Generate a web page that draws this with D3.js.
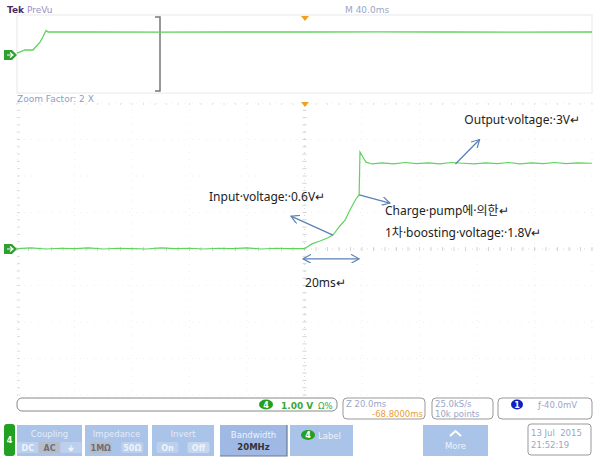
<!DOCTYPE html>
<html>
<head>
<meta charset="UTF-8">
<style>
    body { margin: 0; background: #fff; }
    svg { display: block; }
</style>
</head>
<body>
<svg width="595" height="458"></svg>
<script src="https://d3js.org/d3.v7.min.js"></script>
<script>

// zoomed trace, 20 ms/div, 1 V/div
let mainTime = [-100, -95, -90, -85, -80, -75, -70, -65, -60, -55, -50, -45, -40, -35, -30, -25, -20, -15, -10, -5, 0,
    2.6, 5.4, 8, 9.9, 12.3, 14.1, 15.8, 17.9, 19, 19.3, 20.3, 21.4, 23.5,
    27, 31, 35, 39, 43, 47, 51, 55, 59, 63, 67, 71, 75, 79, 83, 87, 91, 95, 100]
let mainVolt = [0.01, 0.03, 0.0, 0.02, 0.01, 0.03, 0.0, 0.02, 0.01, 0.0, 0.03, 0.01, 0.02, 0.0, 0.02, 0.01, 0.03, 0.0, 0.02, 0.01, 0.01,
    0.14, 0.22, 0.3, 0.38, 0.63, 0.79, 1.07, 1.37, 1.48, 2.66, 2.52, 2.38, 2.33,
    2.36, 2.33, 2.37, 2.34, 2.36, 2.33, 2.37, 2.35, 2.33, 2.36, 2.34, 2.37, 2.33, 2.36, 2.34, 2.37, 2.34, 2.36, 2.35]

// PreVu overview trace, 40 ms/div
let ovTime = [-200, -194.4, -188.9, -184, -182, -179.8, -178.4, -150, -100, -50, 0, 50, 100, 150, 200]
let ovVolt = [0.2, 0.52, 0.52, 1.35, 1.875, 2.55, 2.4, 2.4, 2.39, 2.4, 2.4, 2.41, 2.4, 2.39, 2.4]

let xDivs = d3.range(0, 11)
let yDivs = d3.range(0, 9)

let annotations = [
    { text: "Input·voltage:·0.6V↵", t: -33.2, v: 1.40 },
    { text: "Output·voltage:·3V↵", t: 55.6, v: 3.5 },
    { text: "Charge·pump에·의한↵", t: 28, v: 1.02 },
    { text: "1차·boosting·voltage:·1.8V↵", t: 28, v: 0.42 },
    { text: "20ms↵", t: 0.2, v: -0.95 }
]
// arrows: [t0, v0, t1, v1]
let arrows = [
    [9.9, 0.38, -4.7, 0.90],
    [52.5, 2.33, 60.9, 3.0],
    [19, 1.48, 29.7, 1.26]
]
let spanArrow = [-0.5, 19, -0.27]

let statusBoxes = [
    { x: 343, w: 82, l1: "Z 20.0ms", l2: "-68.8000ms" },
    { x: 432, w: 61, l1: "25.0kS/s", l2: "10k points" }
]
let buttons = [
    { x: 17, w: 65, title: "Coupling", opts: ["DC", "AC", "⏚"], sel: 1 },
    { x: 85, w: 63, title: "Impedance", opts: ["1MΩ", "50Ω"], sel: 0 },
    { x: 152, w: 62, title: "Invert", opts: ["On", "Off"], sel: 1 }
]

let svg = d3.select("svg")
let font = "DejaVu Sans, sans-serif"

let xMain = d3.scaleLinear().domain([-100, 100]).range([17, 592])
let yMain = d3.scaleLinear().domain([-4, 4]).range([395, 103])
let xOv = d3.scaleLinear().domain([-200, 200]).range([17, 592])
let yOv = d3.scaleLinear().domain([0, 2.4]).range([55, 32])

// header
svg.append("text").attr("x", 7).attr("y", 13).attr("font-family", font).attr("font-size", 9)
    .attr("font-weight", "bold").attr("fill", "#4a2a6a").text("Tek")
svg.append("text").attr("x", 27).attr("y", 13).attr("font-family", font).attr("font-size", 9)
    .attr("fill", "#a08ac0").text("PreVu")
svg.append("text").attr("x", 345).attr("y", 13).attr("font-family", font).attr("font-size", 9)
    .attr("fill", "#9aa6c8").text("M 40.0ms")

// overview panel
svg.append("rect").attr("x", 17).attr("y", 15).attr("width", 575).attr("height", 78)
    .attr("fill", "none").attr("stroke", "#e8e8e8")
svg.append("path").attr("d", "M155,17H160V91H155").attr("fill", "none").attr("stroke", "#777").attr("stroke-width", 1.5)
svg.append("path").attr("d", "M301,16H309L305,21Z").attr("fill", "#f0a020")

let lineOv = d3.line().x((d, i) => xOv(ovTime[i])).y((d, i) => yOv(ovVolt[i]))
svg.append("path").datum(ovVolt).attr("d", lineOv).attr("fill", "none")
    .attr("stroke", "#5ed35e").attr("stroke-width", 1.3)

svg.append("text").attr("x", 17).attr("y", 102).attr("font-family", font).attr("font-size", 9)
    .attr("fill", "#8e9ccc").text("Zoom Factor: 2 X")

// main graticule
let grid = svg.append("g")
grid.selectAll("line.v").data(xDivs).enter().append("line")
    .attr("x1", d => xMain(-100 + d * 20)).attr("x2", d => xMain(-100 + d * 20))
    .attr("y1", yMain(4)).attr("y2", yMain(-4))
    .attr("stroke", d => d == 5 ? "#d8d8d8" : "#eeeeee").attr("stroke-dasharray", "1,6")
grid.selectAll("line.h").data(yDivs).enter().append("line")
    .attr("y1", d => yMain(-4 + d)).attr("y2", d => yMain(-4 + d))
    .attr("x1", xMain(-100)).attr("x2", xMain(100))
    .attr("stroke", d => d == 4 ? "#d8d8d8" : "#eeeeee").attr("stroke-dasharray", "1,6")

// minor ticks on the center lines and left edge
let minorT = d3.range(-100, 100.1, 4)
let minorV = d3.range(-4, 4.01, 0.2)
grid.selectAll("line.mt").data(minorT).enter().append("line")
    .attr("x1", d => xMain(d)).attr("x2", d => xMain(d))
    .attr("y1", yMain(0) - 2).attr("y2", yMain(0) + 2).attr("stroke", "#d4d4d4")
grid.selectAll("line.mv").data(minorV).enter().append("line")
    .attr("x1", xMain(0) - 2).attr("x2", xMain(0) + 2)
    .attr("y1", d => yMain(d)).attr("y2", d => yMain(d)).attr("stroke", "#d4d4d4")
grid.selectAll("line.ml").data(minorV).enter().append("line")
    .attr("x1", xMain(-100)).attr("x2", xMain(-100) + 3)
    .attr("y1", d => yMain(d)).attr("y2", d => yMain(d)).attr("stroke", "#dcdcdc")
grid.selectAll("line.mtop").data(minorT).enter().append("line")
    .attr("x1", d => xMain(d)).attr("x2", d => xMain(d))
    .attr("y1", yMain(4)).attr("y2", yMain(4) + 2).attr("stroke", "#e2e2e2")

svg.append("path").attr("d", "M301,102H309L305,107Z").attr("fill", "#f0a020")

// main trace
let lineMain = d3.line().x((d, i) => xMain(mainTime[i])).y((d, i) => yMain(mainVolt[i]))
svg.append("path").datum(mainVolt).attr("d", lineMain).attr("fill", "none")
    .attr("stroke", "#5ed35e").attr("stroke-width", 1.2)

// ground markers
function marker(y) {
    svg.append("path").attr("d", `M4,${y - 5}H12L17,${y}L12,${y + 5}H4Z`).attr("fill", "#2ea02e")
    svg.append("path").attr("d", `M7,${y}H13M10,${y - 2.5}L13,${y}L10,${y + 2.5}`)
        .attr("stroke", "#fff").attr("stroke-width", 1.2).attr("fill", "none")
}
marker(yOv(0))
marker(yMain(0))

// annotations
let defs = svg.append("defs")
defs.append("marker").attr("id", "head").attr("viewBox", "0 0 10 10")
    .attr("refX", 9).attr("refY", 5).attr("markerWidth", 9).attr("markerHeight", 9)
    .attr("orient", "auto-start-reverse").attr("markerUnits", "userSpaceOnUse")
    .append("path").attr("d", "M0,0L9,5L0,10").attr("fill", "none")
    .attr("stroke", "#5b82b8").attr("stroke-width", 1.3)

svg.selectAll("line.arrow").data(arrows).enter().append("line")
    .attr("x1", d => xMain(d[0])).attr("y1", d => yMain(d[1]))
    .attr("x2", d => xMain(d[2])).attr("y2", d => yMain(d[3]))
    .attr("stroke", "#5b82b8").attr("stroke-width", 1.3).attr("marker-end", "url(#head)")
svg.append("line")
    .attr("x1", xMain(spanArrow[0])).attr("x2", xMain(spanArrow[1]))
    .attr("y1", yMain(spanArrow[2])).attr("y2", yMain(spanArrow[2]))
    .attr("stroke", "#5b82b8").attr("stroke-width", 1.3)
    .attr("marker-start", "url(#head)").attr("marker-end", "url(#head)")

svg.selectAll("text.ann").data(annotations).enter().append("text")
    .attr("x", d => xMain(d.t)).attr("y", d => yMain(d.v))
    .attr("dominant-baseline", "middle")
    .attr("font-family", "Noto Sans, Noto Sans CJK KR, sans-serif").attr("font-size", 12)
    .attr("fill", "#222").text(d => d.text)

// channel readout bar
svg.append("rect").attr("x", 17).attr("y", 398).attr("width", 320).attr("height", 13)
    .attr("rx", 5).attr("fill", "#fff").attr("stroke", "#888")
svg.append("ellipse").attr("cx", 266).attr("cy", 404.5).attr("rx", 7).attr("ry", 5).attr("fill", "#22a022")
svg.append("text").attr("x", 266).attr("y", 408).attr("text-anchor", "middle").attr("font-family", font)
    .attr("font-size", 8).attr("font-weight", "bold").attr("fill", "#fff").text("4")
svg.append("text").attr("x", 281).attr("y", 408.5).attr("font-family", font).attr("font-size", 9)
    .attr("font-weight", "bold").attr("fill", "#3aa83a").text("1.00 V")
svg.append("text").attr("x", 318).attr("y", 408.5).attr("font-family", font).attr("font-size", 8.5)
    .attr("fill", "#3aa83a").text("Ω%")

let sb = svg.selectAll("g.sb").data(statusBoxes).enter().append("g")
sb.append("rect").attr("x", d => d.x).attr("y", 398).attr("width", d => d.w).attr("height", 21)
    .attr("rx", 4).attr("fill", "#fff").attr("stroke", "#999")
sb.append("text").attr("x", d => d.x + 3).attr("y", 407).attr("font-family", font).attr("font-size", 8.5)
    .attr("fill", "#9aa6c8").text(d => d.l1)
sb.append("text").attr("x", (d, i) => i == 0 ? d.x + d.w - 2 : d.x + 3).attr("y", 417)
    .attr("text-anchor", (d, i) => i == 0 ? "end" : "start")
    .attr("font-family", font).attr("font-size", 8.5)
    .attr("fill", (d, i) => i == 0 ? "#eba035" : "#9aa6c8").text(d => d.l2)

svg.append("rect").attr("x", 498).attr("y", 398).attr("width", 94).attr("height", 21)
    .attr("rx", 4).attr("fill", "#fff").attr("stroke", "#999")
svg.append("ellipse").attr("cx", 517).attr("cy", 404.5).attr("rx", 6).attr("ry", 5).attr("fill", "#1020c0")
svg.append("text").attr("x", 517).attr("y", 408).attr("text-anchor", "middle").attr("font-family", font)
    .attr("font-size", 8).attr("font-weight", "bold").attr("fill", "#fff").text("1")
svg.append("text").attr("x", 538).attr("y", 408).attr("font-family", font).attr("font-size", 8.5)
    .attr("fill", "#9aa6c8").text("ƒ-40.0mV")

// bottom menu
svg.append("rect").attr("x", 4).attr("y", 424).attr("width", 11).attr("height", 32).attr("rx", 3).attr("fill", "#22a022")
svg.append("text").attr("x", 9.5).attr("y", 443).attr("text-anchor", "middle").attr("font-family", font)
    .attr("font-size", 8).attr("font-weight", "bold").attr("fill", "#fff").text("4")

let btn = svg.selectAll("g.btn").data(buttons).enter().append("g")
btn.append("rect").attr("x", d => d.x).attr("y", 425).attr("width", d => d.w).attr("height", 31).attr("fill", "#aac3e8")
btn.append("text").attr("x", d => d.x + d.w / 2).attr("y", 437).attr("text-anchor", "middle")
    .attr("font-family", font).attr("font-size", 8.5).attr("fill", "#e4ecf8").text(d => d.title)
btn.each(function(d) {
    let g = d3.select(this)
    let step = d.w / d.opts.length
    d.opts.forEach((o, i) => {
        let cx = d.x + step * i + step / 2
        if (i == d.sel) {
            g.append("rect").attr("x", cx - 11).attr("y", 442).attr("width", 22).attr("height", 11)
                .attr("rx", 2).attr("fill", d.title == "Invert" ? "#c6d6ee" : "#b8bcc6")
        } else {
            g.append("rect").attr("x", cx - 11).attr("y", 442).attr("width", 22).attr("height", 11)
                .attr("rx", 2).attr("fill", "#bcd0ee")
        }
        g.append("text").attr("x", cx).attr("y", 451).attr("text-anchor", "middle")
            .attr("font-family", font).attr("font-size", 8).attr("font-weight", "bold")
            .attr("fill", i == d.sel && d.title != "Invert" ? "#6b6f7a" : "#eef3fb").text(o)
    })
})

svg.append("rect").attr("x", 220).attr("y", 425).attr("width", 67).attr("height", 31).attr("fill", "#9fb9e4")
svg.append("path").attr("d", "M220,456H287V425").attr("fill", "none").attr("stroke", "#6c7a90").attr("stroke-width", 1.2)
svg.append("text").attr("x", 253.5).attr("y", 438).attr("text-anchor", "middle").attr("font-family", font)
    .attr("font-size", 8.5).attr("fill", "#eef3fb").text("Bandwidth")
svg.append("text").attr("x", 253.5).attr("y", 450).attr("text-anchor", "middle").attr("font-family", font)
    .attr("font-size", 8.5).attr("font-weight", "bold").attr("fill", "#333").text("20MHz")

svg.append("rect").attr("x", 290).attr("y", 425).attr("width", 63).attr("height", 31).attr("fill", "#aac3e8")
svg.append("ellipse").attr("cx", 308).attr("cy", 435).attr("rx", 7).attr("ry", 5).attr("fill", "#22a022")
svg.append("text").attr("x", 308).attr("y", 438).attr("text-anchor", "middle").attr("font-family", font)
    .attr("font-size", 8).attr("font-weight", "bold").attr("fill", "#fff").text("4")
svg.append("text").attr("x", 318).attr("y", 438.5).attr("font-family", font)
    .attr("font-size", 8.5).attr("fill", "#eef3fb").text("Label")

svg.append("rect").attr("x", 423).attr("y", 425).attr("width", 65).attr("height", 31).attr("fill", "#aac3e8")
svg.append("path").attr("d", "M450,436L455.5,431L461,436").attr("fill", "none").attr("stroke", "#fff").attr("stroke-width", 2)
svg.append("text").attr("x", 455.5).attr("y", 449).attr("text-anchor", "middle").attr("font-family", font)
    .attr("font-size", 8.5).attr("fill", "#eef3fb").text("More")

svg.append("rect").attr("x", 528).attr("y", 424).attr("width", 63).attr("height", 31)
    .attr("rx", 3).attr("fill", "#fff").attr("stroke", "#999")
svg.append("text").attr("x", 531).attr("y", 436).attr("font-family", font).attr("font-size", 8.5)
    .attr("fill", "#9aa6c8").attr("xml:space", "preserve").text("13 Jul  2015")
svg.append("text").attr("x", 531).attr("y", 448).attr("font-family", font).attr("font-size", 8.5)
    .attr("fill", "#9aa6c8").text("21:52:19")

</script>
</body>
</html>
